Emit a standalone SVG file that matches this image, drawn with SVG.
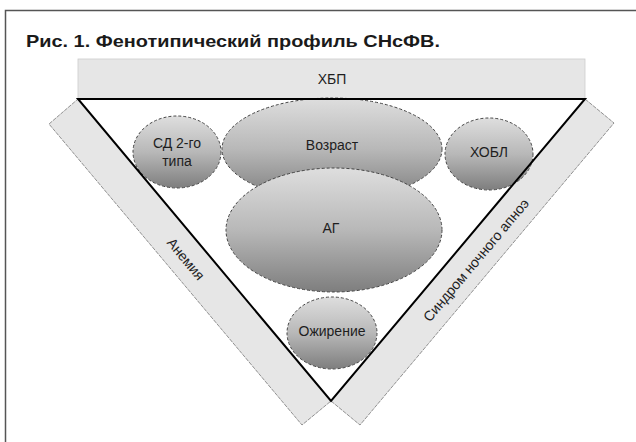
<svg xmlns="http://www.w3.org/2000/svg" width="636" height="442" viewBox="0 0 636 442">
<defs>
<linearGradient id="g" x1="0" y1="0" x2="0" y2="1">
<stop offset="0" stop-color="#dedede"/>
<stop offset="0.5" stop-color="#b8b8b8"/>
<stop offset="1" stop-color="#7e7e7e"/>
</linearGradient>
<style>
.t{font-family:"Liberation Sans",Arial,sans-serif;font-size:14px;fill:#1e1e1e;text-anchor:middle;dominant-baseline:central}
.strip{fill:#e6e6e6;stroke:#777;stroke-width:0.8;stroke-dasharray:4 1}
.node{fill:url(#g);stroke:#444;stroke-width:1;stroke-dasharray:3 2}
</style>
</defs>
<rect x="0" y="0" width="636" height="442" fill="#fff"/>
<path d="M5.5 450 V10.5 H640" fill="none" stroke="#555" stroke-width="1.5"/>
<text x="26" y="47" font-family="Liberation Sans,Arial,sans-serif" font-weight="bold" font-size="17" fill="#1a1a1a" textLength="414" lengthAdjust="spacingAndGlyphs">Рис. 1. Фенотипический профиль СНсФВ.</text>

<g id="anemia">
<polygon class="strip" points="78,99 331,401 302,425 49,124"/>
<text class="t" transform="translate(186,259) rotate(50)">Анемия</text>
</g>
<g id="apnea">
<polygon class="strip" points="585,99 331,401 360,425 614,123"/>
<text class="t" transform="translate(476,260) rotate(-50)">Синдром ночного апноэ</text>
</g>
<g id="ckd">
<rect x="78" y="59" width="507" height="40" fill="#e6e6e6" stroke="#ccc" stroke-width="0.8"/>
<text class="t" x="332" y="79">ХБП</text>
</g>

<g id="age">
<ellipse class="node" cx="332" cy="149" rx="110" ry="51"/>
<text class="t" x="332" y="145">Возраст</text>
</g>
<g id="ag">
<ellipse class="node" cx="334" cy="230" rx="108" ry="62"/>
<text class="t" x="331" y="228">АГ</text>
</g>
<g id="dm">
<ellipse class="node" cx="177" cy="152" rx="44" ry="36"/>
<text class="t" x="177" y="143">СД 2-го</text>
<text class="t" x="177" y="161">типа</text>
</g>
<g id="copd">
<ellipse class="node" cx="489" cy="154" rx="44" ry="36"/>
<text class="t" x="489" y="152">ХОБЛ</text>
</g>
<g id="obesity">
<ellipse class="node" cx="332" cy="333" rx="45" ry="36"/>
<text class="t" x="332" y="331">Ожирение</text>
</g>

<g id="connectors">
<polygon points="78,99 585,99 331,401" fill="none" stroke="#000" stroke-width="2" stroke-linejoin="miter"/>
</g>
</svg>
